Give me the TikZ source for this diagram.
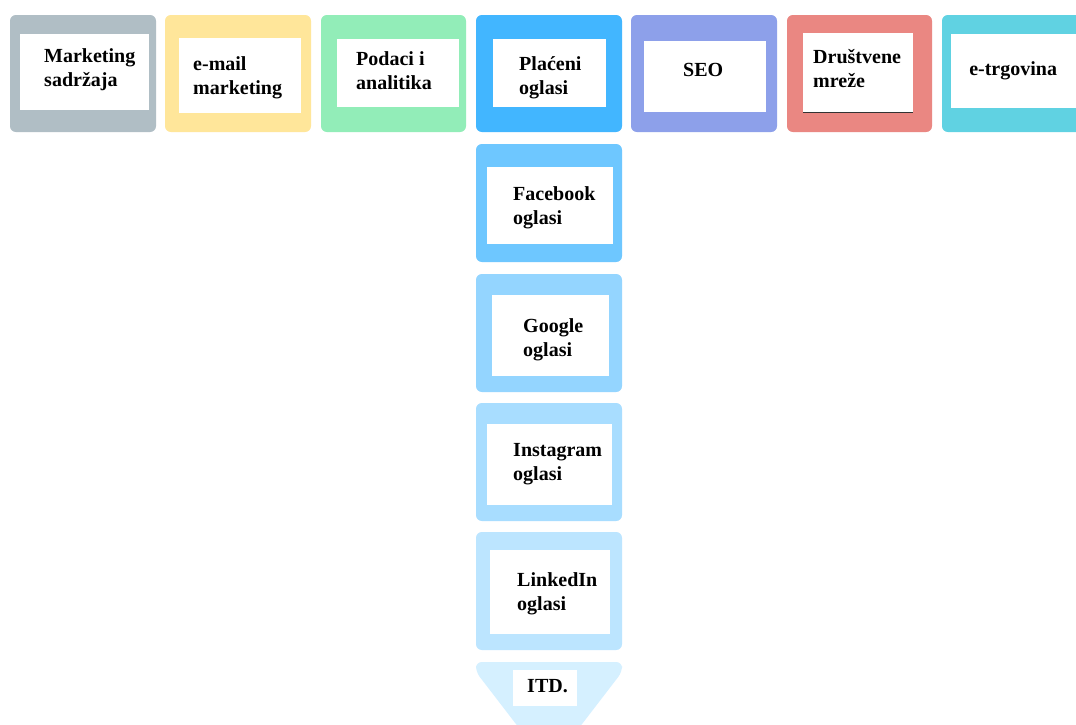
\documentclass[tikz,border=0pt]{standalone}
\usepackage{fontspec}
\setmainfont{Liberation Serif}
\usetikzlibrary{positioning}

\definecolor{cgray}{HTML}{B0BEC5}
\definecolor{cyellow}{HTML}{FFE69A}
\definecolor{cgreen}{HTML}{92EDB8}
\definecolor{cblue}{HTML}{42B6FF}
\definecolor{cpurple}{HTML}{8DA0EA}
\definecolor{cred}{HTML}{EA8782}
\definecolor{ccyan}{HTML}{60D2E2}
\definecolor{cfb}{HTML}{6EC7FF}
\definecolor{cgoo}{HTML}{94D5FF}
\definecolor{cinsta}{HTML}{A8DDFF}
\definecolor{clnk}{HTML}{BCE5FF}
\definecolor{citd}{HTML}{D5F0FF}

\begin{document}
\begin{tikzpicture}[
    x=0.03cm, y=-0.03cm,
    outerbox/.style={rounded corners=5pt},
    innerbox/.style={fill=white},
    label/.style={anchor=north west, inner sep=0pt, align=left,
        font=\fontsize{17.07pt}{20.5pt}\selectfont\bfseries}
]
\clip (0,0) rectangle (1076,724);
\fill[white] (0,0) rectangle (1076,724);

% Top row
\foreach \xa/\xb/\col/\ia/\ib/\ic/\id in {
    10/156/cgray/20/149/34/110,
    165/311/cyellow/179/301/38/113,
    321/466/cgreen/337/459/39/107,
    476/622/cblue/493/606/39/107,
    631/777/cpurple/644/766/41/112,
    787/932/cred/803/913/33/113,
    942/1090/ccyan/951/1090/34/108} {
    \fill[outerbox, \col] (\xa,15) rectangle (\xb,132);
    \fill[innerbox] (\ia,\ic) rectangle (\ib,\id);
}
\draw[black!80, line width=1pt] (803,112.5) -- (913,112.5);

\node[label] (mkt)   at (44,48.5)  {Marketing\\sadržaja};
\node[label] (email) at (193,56.5) {e-mail\\marketing};
\node[label] (pod)   at (356,51.5) {Podaci i\\analitika};
\node[label] (plac)  at (519,56.5) {Plaćeni\\oglasi};
\node[label] (seo)   at (683,63.5) {SEO};
\node[label] (drus)  at (813,49.5) {Društvene\\mreže};
\node[label] (etrg)  at (969,61.5) {e-trgovina};

% Column under Placeni oglasi
\foreach \ya/\yb/\col/\ia/\ib/\ic/\id in {
    144/262/cfb/487/613/167/244,
    274/392/cgoo/492/609/295/376,
    403/521/cinsta/487/612/424/505,
    532/650/clnk/490/610/550/634} {
    \fill[outerbox, \col] (476,\ya) rectangle (622,\yb);
    \fill[innerbox] (\ia,\ic) rectangle (\ib,\id);
}

\node[label] (fb)    at (513,186.5) {Facebook\\oglasi};
\node[label] (goo)   at (523,318.5) {Google\\oglasi};
\node[label] (insta) at (513,443.5) {Instagram\\oglasi};
\node[label] (lnk)   at (517,572.5) {LinkedIn\\oglasi};

% Arrow tip
\fill[outerbox, citd] (549,767) -- (476,672) -- (476,662) -- (622,662) -- (622,672) -- cycle;
\fill[innerbox] (513,670) rectangle (577,706);
\node[label] (itd) at (527,679.5) {ITD.};

\end{tikzpicture}
\end{document}
